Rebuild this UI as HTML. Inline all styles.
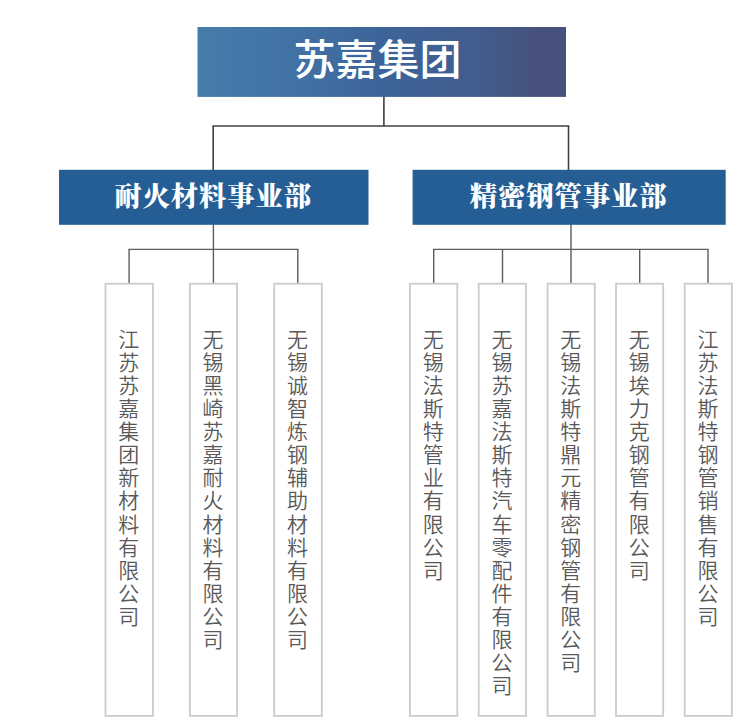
<!DOCTYPE html>
<html lang="zh-CN">
<head>
<meta charset="utf-8">
<title>苏嘉集团 组织架构</title>
<style>
html,body{margin:0;padding:0;background:#fff;}
body{width:753px;height:728px;position:relative;overflow:hidden;font-family:"Liberation Sans","Noto Sans CJK SC",sans-serif;}
.abs{position:absolute;}
svg{position:absolute;left:0;top:0;}
.t{color:#fff;white-space:nowrap;text-align:center;}
.top{left:197.5px;top:27px;width:360px;height:70px;font-family:"Liberation Sans","Noto Sans CJK SC",sans-serif;font-weight:500;font-size:42px;line-height:68px;}
.dv{top:169.8px;height:55px;font-family:"Liberation Serif","Noto Serif CJK SC",serif;font-weight:900;font-size:27.3px;letter-spacing:0.95px;line-height:54.4px;}
.co{width:22px;text-align:center;color:#595959;font-weight:350;font-size:21px;line-height:23.13px;word-break:break-all;font-family:"Liberation Sans","Noto Sans CJK SC",sans-serif;}
</style>
</head>
<body>
<svg width="753" height="728" viewBox="0 0 753 728">
<defs>
<linearGradient id="g" x1="0" y1="0" x2="1" y2="0">
<stop offset="0" stop-color="#467cab"/>
<stop offset="0.3" stop-color="#4170a3"/>
<stop offset="0.5" stop-color="#3d6499"/>
<stop offset="0.75" stop-color="#425c8e"/>
<stop offset="0.93" stop-color="#47517b"/>
<stop offset="1" stop-color="#47507a"/>
</linearGradient>
</defs>
<line x1="383.90" y1="96.00" x2="383.90" y2="126.00" stroke="#404040" stroke-width="1.6"/>
<line x1="212.40" y1="126.00" x2="569.30" y2="126.00" stroke="#404040" stroke-width="1.6"/>
<line x1="213.20" y1="126.00" x2="213.20" y2="171.00" stroke="#404040" stroke-width="1.6"/>
<line x1="568.50" y1="126.00" x2="568.50" y2="171.00" stroke="#404040" stroke-width="1.6"/>
<line x1="213.40" y1="224.00" x2="213.40" y2="283.50" stroke="#5c5c5c" stroke-width="1.4"/>
<line x1="128.35" y1="249.40" x2="298.55" y2="249.40" stroke="#5c5c5c" stroke-width="1.4"/>
<line x1="129.10" y1="249.40" x2="129.10" y2="283.50" stroke="#5c5c5c" stroke-width="1.4"/>
<line x1="297.80" y1="249.40" x2="297.80" y2="283.50" stroke="#5c5c5c" stroke-width="1.4"/>
<line x1="571.00" y1="224.00" x2="571.00" y2="283.50" stroke="#5c5c5c" stroke-width="1.4"/>
<line x1="432.95" y1="249.40" x2="708.75" y2="249.40" stroke="#5c5c5c" stroke-width="1.4"/>
<line x1="433.70" y1="249.40" x2="433.70" y2="283.50" stroke="#5c5c5c" stroke-width="1.4"/>
<line x1="502.50" y1="249.40" x2="502.50" y2="283.50" stroke="#5c5c5c" stroke-width="1.4"/>
<line x1="639.70" y1="249.40" x2="639.70" y2="283.50" stroke="#5c5c5c" stroke-width="1.4"/>
<line x1="708.00" y1="249.40" x2="708.00" y2="283.50" stroke="#5c5c5c" stroke-width="1.4"/>
<rect x="197.5" y="27" width="368.5" height="69.9" fill="url(#g)"/>
<rect x="59" y="169.8" width="309.5" height="55" fill="#255e95"/>
<rect x="412.6" y="169.8" width="313.1" height="55" fill="#255e95"/>
<rect x="105.50" y="283.70" width="47.40" height="432.20" fill="#fff" stroke="#cacbcd" stroke-width="1.8"/>
<rect x="189.90" y="283.70" width="47.20" height="432.20" fill="#fff" stroke="#cacbcd" stroke-width="1.8"/>
<rect x="274.20" y="283.70" width="47.60" height="432.20" fill="#fff" stroke="#cacbcd" stroke-width="1.8"/>
<rect x="409.90" y="283.70" width="47.40" height="432.20" fill="#fff" stroke="#cacbcd" stroke-width="1.8"/>
<rect x="478.70" y="283.70" width="47.30" height="432.20" fill="#fff" stroke="#cacbcd" stroke-width="1.8"/>
<rect x="547.60" y="283.70" width="47.20" height="432.20" fill="#fff" stroke="#cacbcd" stroke-width="1.8"/>
<rect x="616.00" y="283.70" width="47.20" height="432.20" fill="#fff" stroke="#cacbcd" stroke-width="1.8"/>
<rect x="684.70" y="283.70" width="47.20" height="432.20" fill="#fff" stroke="#cacbcd" stroke-width="1.8"/>
</svg>
<div class="abs t top">苏嘉集团</div>
<div class="abs t dv" style="left:58.5px;width:309.5px">耐火材料事业部</div>
<div class="abs t dv" style="left:412.1px;width:313.1px">精密钢管事业部</div>
<div class="abs co" style="left:117.80px;top:327.5px">江苏苏嘉集团新材料有限公司</div>
<div class="abs co" style="left:202.10px;top:327.5px">无锡黑崎苏嘉耐火材料有限公司</div>
<div class="abs co" style="left:286.60px;top:327.5px">无锡诚智炼钢辅助材料有限公司</div>
<div class="abs co" style="left:422.20px;top:327.5px">无锡法斯特管业有限公司</div>
<div class="abs co" style="left:490.95px;top:327.5px">无锡苏嘉法斯特汽车零配件有限公司</div>
<div class="abs co" style="left:559.80px;top:327.5px">无锡法斯特鼎元精密钢管有限公司</div>
<div class="abs co" style="left:628.20px;top:327.5px">无锡埃力克钢管有限公司</div>
<div class="abs co" style="left:696.90px;top:327.5px">江苏法斯特钢管销售有限公司</div>
</body>
</html>
